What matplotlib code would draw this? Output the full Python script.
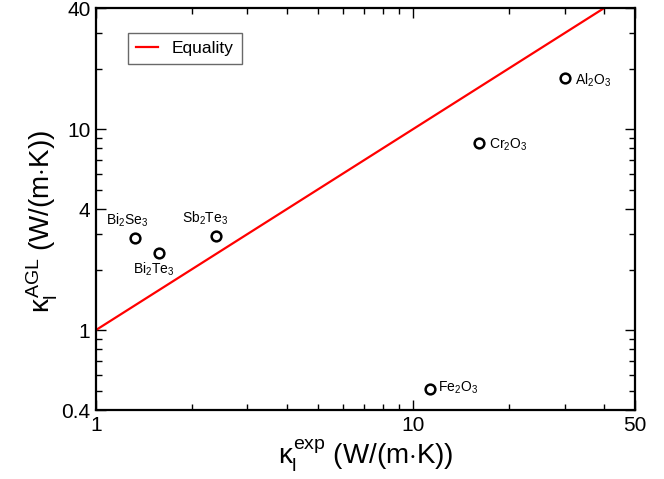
import matplotlib
matplotlib.use("Agg")
import matplotlib.pyplot as plt
from matplotlib.ticker import LogLocator, FixedLocator, NullFormatter, FixedFormatter

plt.rcParams['font.family'] = ['Liberation Sans', 'DejaVu Sans']
plt.rcParams['mathtext.fontset'] = 'custom'
plt.rcParams['mathtext.rm'] = 'Liberation Sans'
plt.rcParams['mathtext.it'] = 'Liberation Sans'
plt.rcParams['mathtext.bf'] = 'Liberation Sans:bold'

# Data
materials = ['Bi$_2$Se$_3$', 'Bi$_2$Te$_3$', 'Sb$_2$Te$_3$', 'Cr$_2$O$_3$', 'Al$_2$O$_3$', 'Fe$_2$O$_3$']
kappa_exp = [1.33, 1.58, 2.39, 16.1, 30.1, 11.3]
kappa_agl = [2.87, 2.42, 2.94, 8.5, 17.9, 0.51]
label_offsets = [(-6, 13, 'center'), (-4, -12, 'center'), (-8, 13, 'center'),
                 (7, -1.5, 'left'), (7, -1.5, 'left'), (6, 1, 'left')]
equality = [1, 50]
xticks = [1, 10, 50]
xticklabels = ['1', '10', '50']
yticks = [0.4, 1, 4, 10, 40]
yticklabels = ['0.4', '1', '4', '10', '40']

fig = plt.figure(figsize=(6.64, 4.79), dpi=100)
ax = fig.add_axes([96/664, 69/479, 539/664, 402/479])

ax.plot(equality, equality, color='#ff0000', lw=1.6, label='Equality', zorder=2)
ax.plot(kappa_exp, kappa_agl, linestyle='none', marker='o', markersize=7,
        markerfacecolor='white', markeredgecolor='black', markeredgewidth=1.8, zorder=3)

for name, x, y, (dx, dy, ha) in zip(materials, kappa_exp, kappa_agl, label_offsets):
    ax.annotate(name, (x, y), xytext=(dx, dy), textcoords='offset points',
                ha=ha, va='center', fontsize=10)

ax.set_xscale('log')
ax.set_yscale('log')
ax.set_xlim(1, 50)
ax.set_ylim(0.4, 40)

ax.xaxis.set_major_locator(FixedLocator(xticks))
ax.xaxis.set_major_formatter(FixedFormatter(xticklabels))
ax.yaxis.set_major_locator(FixedLocator(yticks))
ax.yaxis.set_major_formatter(FixedFormatter(yticklabels))
ax.xaxis.set_minor_locator(LogLocator(base=10, subs=range(2, 10)))
ax.yaxis.set_minor_locator(LogLocator(base=10, subs=range(2, 10)))
ax.xaxis.set_minor_formatter(NullFormatter())
ax.yaxis.set_minor_formatter(NullFormatter())

ax.tick_params(which='both', direction='in', top=True, right=True, labelsize=15, width=1.0)
ax.tick_params(which='major', length=7, pad=4)
ax.tick_params(which='minor', length=4.5)
for s in ax.spines.values():
    s.set_linewidth(1.6)

ax.set_xlabel(r'$\kappa_\mathrm{l}^{\mathrm{exp}}$ (W/(m$\cdot$K))', fontsize=20, labelpad=2)
ax.set_ylabel(r'$\kappa_\mathrm{l}^{\mathrm{AGL}}$ (W/(m$\cdot$K))', fontsize=20)
ax.yaxis.set_label_coords(-0.066, 0.47)

leg = ax.legend(loc='upper left', bbox_to_anchor=(0.059, 0.938), borderaxespad=0,
                fontsize=12.5, frameon=True, fancybox=False, handlelength=1.3,
                borderpad=0.45, handletextpad=0.8)
leg.get_frame().set_edgecolor('#444444')
leg.get_frame().set_linewidth(1.0)

fig.savefig('out.png', dpi=100)
